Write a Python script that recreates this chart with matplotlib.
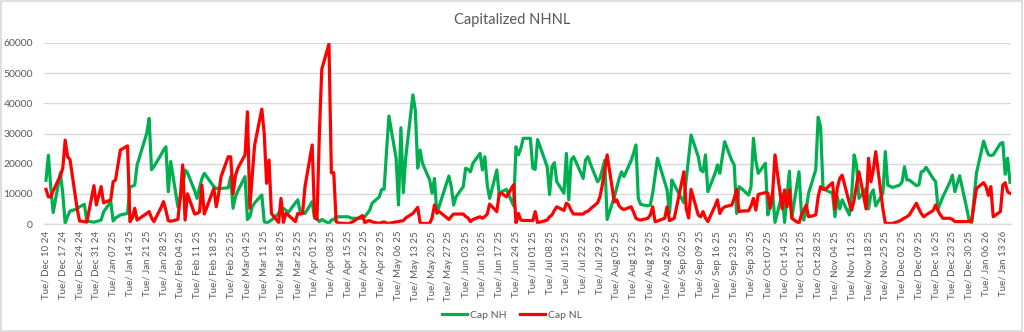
import numpy as np
import pandas as pd
import matplotlib
matplotlib.use("Agg")
import matplotlib.pyplot as plt
import matplotlib.dates as mdates
from matplotlib.patches import Rectangle
from matplotlib.lines import Line2D

plt.rcParams['font.family'] = ['Lato', 'DejaVu Sans']

# market holidays skipped in the daily series
holidays = ['2024-12-25', '2025-01-01', '2025-01-09', '2025-01-20', '2025-02-17',
            '2025-04-18', '2025-05-26', '2025-06-19', '2025-07-04', '2025-09-01',
            '2025-11-27', '2025-12-25', '2026-01-01']
dates = pd.bdate_range('2024-12-10', '2026-01-16', freq='C', holidays=holidays)

# capitalized new highs, one row per week
cap_nh = [
    14500, 22800, 12000, 3800,
    17000, 10000, 300, 2500, 4300,
    5000, 5700, 6500, 1000,
    600, 800, 1300, 4000,
    7400, 1000, 2000, 3000,
    3500, 12400, 12500, 12900, 19600,
    30000, 35000, 18000, 19000,
    23000, 24500, 25600, 10700, 20700,
    5700, 9000, 12000, 17900, 17000,
    11000, 8500, 12000, 15000, 16800,
    12400, 11800, 11800, 11800,
    12000, 15700, 5200, 9000, 11000,
    15700, 1500, 2400, 5700, 7000,
    9600, 800, 300, 800, 1300,
    3500, 5000, 5200, 4600, 3800,
    7000, 8000, 4100, 4000, 3500,
    7400, 1900, 1800, 800, 1500,
    200, 1300, 1500, 2400, 2400,
    2400, 2400, 2000, 1900,
    1900, 2500, 3500, 4600, 6900,
    9000, 11500, 11500, 24000, 35800,
    21800, 6300, 31900, 10400, 22000,
    42800, 37800, 18500, 24500, 20100,
    14600, 10200, 15100, 3500, 6000,
    15900, 12400, 6300, 9000,
    12400, 18500, 18100, 17300, 20100,
    23400, 17900, 22300, 13000, 8500,
    17900, 9400, 10700, 11500,
    6000, 25600, 22900, 25000, 28400,
    28400, 18500, 18100, 28000,
    19000, 9800, 19000, 20300, 14000,
    10200, 23400, 8000, 21200, 22300,
    17000, 15100, 21200, 22300, 20000,
    14000, 15100, 18000, 21200, 1500,
    9000, 12000, 15000, 17300, 15700,
    21000, 23400, 26200, 8500, 6500,
    6000, 6300, 10200, 16000, 21800,
    14000, 11300, 3500, 14600, 13000,
    7000, 15000, 22000, 29500,
    22300, 17900, 17300, 22900, 10700,
    16800, 19600, 16800, 22000, 27300,
    21000, 19600, 3500, 12400, 11800,
    9600, 12400, 28400, 21000, 16800,
    20100, 3000, 6000, 10700, 500,
    10000, 500, 9000, 17500, 2000,
    17300, 4000, 1300, 4600, 10200,
    18000, 35400, 32300, 12400, 11300,
    10200, 2400, 9000, 5000, 8000,
    3000, 10200, 22900, 19600, 8500,
    11800, 5000, 10000, 11300, 6000,
    10200, 24000, 12900, 12100,
    12900, 14000, 19000, 14600, 14600,
    12700, 13000, 17300, 17600, 18800,
    15000, 14000, 5000, 7000, 9000,
    14000, 16200, 10700, 16000,
    5000, 1000, 300, 16800,
    27500, 25000, 23000, 22700, 22900,
    26700, 27000, 16500, 21800, 13800,
]

# capitalized new lows, same layout
cap_nl = [
    11500, 9000, 9000, 11000,
    16000, 18500, 27800, 22300, 21400,
    5000, 1000, 800, 600,
    12700, 6300, 12400, 7000,
    8000, 14000, 14600, 24500,
    25900, 800, 2000, 5200, 1300,
    3500, 4100, 2000, 800,
    5500, 7400, 4500, 1100, 900,
    1500, 9000, 19600, 1300, 10000,
    3300, 3500, 4000, 12900, 3300,
    11800, 5700, 10000, 15700,
    22300, 22300, 10000, 16000, 18500,
    22900, 37200, 5200, 16000, 26200,
    38100, 30000, 13500, 21200, 3500,
    500, 8500, 500, 3500, 3000,
    800, 3500, 3300, 3500, 12400,
    26200, 2400, 1500, 30000, 51300,
    59700, 17000, 17000, 800, 300,
    200, 100, 400, 800,
    2800, 300, 1000, 1100, 700,
    200, 500, 700, 300, 200,
    700, 800, 1000, 1100, 2000,
    3500, 4500, 5500, 500, 200,
    200, 2000, 6300, 3800, 4100,
    1500, 2500, 3300, 3300,
    3300, 2500, 2000, 800, 1500,
    2400, 1900, 2500, 3300, 6600,
    4100, 10000, 10200, 9000,
    13000, 300, 3500, 1300, 1200,
    1100, 1100, 4100, 400,
    1300, 2400, 3000, 4500, 5700,
    4500, 6900, 6300, 4500, 3300,
    3300, 3300, 4000, 4200, 5000,
    7000, 9000, 13000, 18000, 22900,
    7300, 8000, 6000, 5200, 4800,
    5700, 4000, 1900, 1500, 1300,
    1900, 3000, 5700, 800, 1000,
    1900, 5700, 1100, 1500, 1900,
    17300, 5000, 2000, 11500,
    3000, 2400, 4100, 2000, 800,
    6000, 8000, 3500, 5000, 5700,
    6300, 8500, 11500, 4100, 4300,
    4400, 6000, 8500, 4600, 9800,
    10400, 10200, 5200, 10000, 22900,
    5000, 11300, 5700, 11300, 1900,
    200, 3000, 4500, 6300, 2400,
    3000, 9000, 12400, 11500, 11500,
    13700, 5000, 12000, 15100, 16200,
    7000, 4600, 8000, 13000, 17300,
    5000, 21800, 14000, 18000, 24000,
    5000, 300, 200, 200,
    1000, 1500, 2000, 2400, 3000,
    6900, 5000, 3500, 2400, 3000,
    4500, 6300, 4400, 3000, 1900,
    1900, 1500, 800, 800,
    800, 900, 1000, 11800,
    13700, 12400, 9500, 12400, 2400,
    4100, 12900, 13700, 10700, 10200,
]

y_ticks = [0, 10000, 20000, 30000, 40000, 50000, 60000]
tick_dates = pd.date_range('2024-12-10', '2026-01-13', freq='7D')

grey = '#595959'
grid = '#d9d9d9'

fig = plt.figure(figsize=(10.24, 3.32), dpi=100)
fig.patches.append(Rectangle((0.001, 0.002), 0.997, 0.995, transform=fig.transFigure,
                             fill=False, edgecolor=grid, linewidth=1.2))

ax = fig.add_axes([44 / 1024, 108 / 332, 967 / 1024, 181 / 332])
ax.plot(dates, cap_nh, color='#00B050', lw=2.3, solid_joinstyle='round', label='Cap NH')
ax.plot(dates, cap_nl, color='#FF0000', lw=2.3, solid_joinstyle='round', label='Cap NL')

ax.set_ylim(0, 60000)
ax.set_yticks(y_ticks)
ax.set_yticklabels([str(v) for v in y_ticks], color=grey, fontsize=7.5)
ax.set_xlim(pd.Timestamp('2024-12-09 04:00'), pd.Timestamp('2026-01-16 10:00'))
ax.set_xticks(tick_dates)
ax.xaxis.set_major_formatter(mdates.DateFormatter('%a/ %b %d %y'))
ax.tick_params(axis='x', labelrotation=90, labelsize=7, labelcolor=grey, length=0, pad=5)
ax.tick_params(axis='y', length=0, pad=8)

ax.grid(axis='y', color=grid, linewidth=1)
ax.set_axisbelow(True)
for side in ['top', 'right', 'left']:
    ax.spines[side].set_visible(False)
ax.spines['bottom'].set_color(grid)
ax.spines['bottom'].set_linewidth(1)

fig.text(0.5, 1 - 20 / 332, 'Capitalized NHNL', ha='center', va='center',
         fontsize=10.5, color=grey)

handles = [Line2D([], [], color='#00B050', lw=2.3), Line2D([], [], color='#FF0000', lw=2.3)]
fig.legend(handles, ['Cap NH', 'Cap NL'], loc='center', bbox_to_anchor=(0.5, 17 / 332),
           ncol=2, frameon=False, fontsize=7.5, labelcolor=grey, handlelength=2.4,
           columnspacing=1.2, handletextpad=0.3)

fig.savefig('out.png', dpi=100)
